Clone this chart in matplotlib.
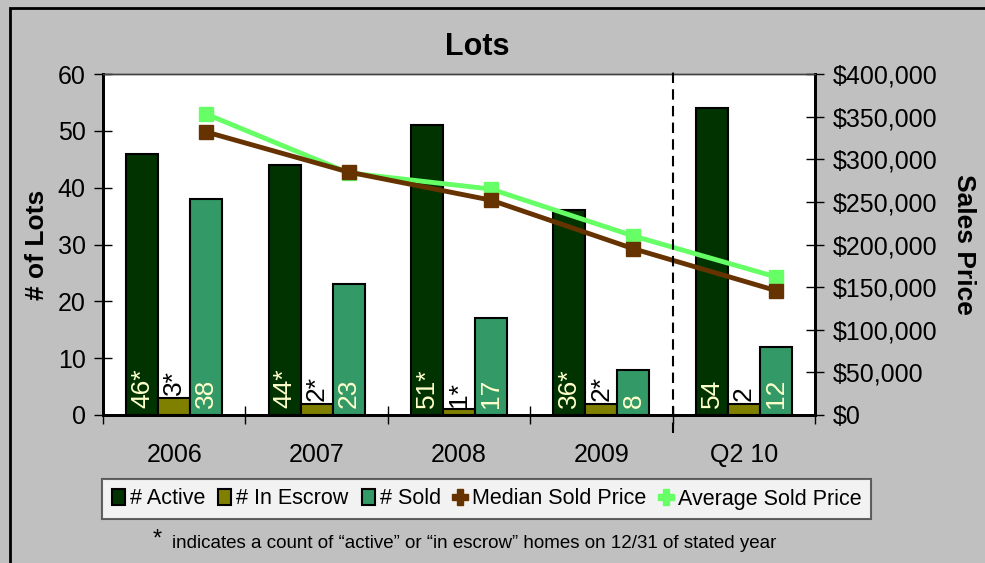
import numpy as np
import matplotlib
matplotlib.use("Agg")
import matplotlib.pyplot as plt
from matplotlib.patches import Patch, Rectangle
from matplotlib.lines import Line2D
from matplotlib.ticker import FuncFormatter, MultipleLocator

plt.rcParams['font.family'] = ['Liberation Sans', 'DejaVu Sans']

categories = ['2006', '2007', '2008', '2009', 'Q2 10']
active = [46, 44, 51, 36, 54]
escrow = [3, 2, 1, 2, 2]
sold = [38, 23, 17, 8, 12]
active_labels = ['46*', '44*', '51*', '36*', '54']
escrow_labels = ['3*', '2*', '1*', '2*', '2']
sold_labels = ['38', '23', '17', '8', '12']
median_price = [332000, 285000, 252000, 195000, 146000]
average_price = [353000, 284000, 265000, 210000, 162000]

c_active = '#003300'
c_escrow = '#808000'
c_sold = '#339966'
c_median = '#663300'
c_avg = '#66ff66'
c_lab = '#ffffcc'
bg = '#c0c0c0'

fig = plt.figure(figsize=(9.85, 5.63), dpi=100, facecolor=bg)
ax = fig.add_axes([103/985, 1-415/563, 712/985, 341/563])
ax2 = ax.twinx()

x = np.arange(len(categories))
w = 0.225

ax.bar(x - w, active, w, color=c_active, edgecolor='black', linewidth=1.5, zorder=2)
ax.bar(x, escrow, w, color=c_escrow, edgecolor='black', linewidth=1.5, zorder=2)
ax.bar(x + w, sold, w, color=c_sold, edgecolor='black', linewidth=1.5, zorder=2)

for i in range(len(categories)):
    ax.annotate(active_labels[i], (x[i] - w, 0), xytext=(0, 5), textcoords='offset points',
                rotation=90, ha='center', va='bottom', color=c_lab, fontsize=19)
    ax.annotate(escrow_labels[i], (x[i], escrow[i]), xytext=(0, 2), textcoords='offset points',
                rotation=90, ha='center', va='bottom', color='black', fontsize=19)
    ax.annotate(sold_labels[i], (x[i] + w, 0), xytext=(0, 5), textcoords='offset points',
                rotation=90, ha='center', va='bottom', color=c_lab, fontsize=19)

ax.set_xlim(-0.5, 4.5)
ax.set_ylim(0, 60)
ax.yaxis.set_major_locator(MultipleLocator(10))
ax.set_facecolor('white')
ax.set_xticks(x)
ax.set_xticklabels(categories)
ax.set_xticks(np.arange(-0.5, 5, 1), minor=True)
ax.tick_params(axis='x', which='major', length=0, pad=20, labelsize=18)
ax.tick_params(axis='x', which='minor', direction='inout', length=13, width=1)
ax.tick_params(axis='y', direction='inout', length=13, width=1, pad=6, labelsize=18)
ax.set_ylabel('# of Lots', fontsize=19, fontweight='bold', labelpad=6)

ax2.plot(x + w, average_price, color=c_avg, lw=3.5, marker='s', markersize=10, zorder=3)
ax2.plot(x + w, median_price, color=c_median, lw=3.5, marker='s', markersize=10, zorder=4)
ax2.set_ylim(0, 400000)
ax2.yaxis.set_major_locator(MultipleLocator(50000))
ax2.yaxis.set_major_formatter(FuncFormatter(lambda v, p: '${:,.0f}'.format(v)))
ax2.tick_params(axis='y', direction='inout', length=13, width=1, pad=6, labelsize=18)
ax2.set_ylabel('Sales Price', fontsize=19, fontweight='bold', rotation=-90, labelpad=28)

for a in (ax, ax2):
    for s in ('left', 'right', 'bottom'):
        a.spines[s].set_linewidth(2)
        a.spines[s].set_color('black')
    a.spines['top'].set_linewidth(1)
    a.spines['top'].set_color('#404040')

ax2.axvline(3.5, ymin=-18/341, ymax=347/341, color='black', lw=1.5,
            linestyle=(0, (5, 3)), clip_on=False, zorder=5)

fig.text(477/985, 1-47/563, 'Lots', ha='center', va='center', fontsize=22, fontweight='bold')

handles = [
    Patch(facecolor=c_active, edgecolor='black', linewidth=1.5, label='# Active'),
    Patch(facecolor=c_escrow, edgecolor='black', linewidth=1.5, label='# In Escrow'),
    Patch(facecolor=c_sold, edgecolor='black', linewidth=1.5, label='# Sold'),
    Line2D([], [], color=c_median, marker='P', markersize=12, lw=0, label='Median Sold Price'),
    Line2D([], [], color=c_avg, marker='P', markersize=12, lw=0, label='Average Sold Price'),
]
leg = fig.legend(handles=handles, loc='center', bbox_to_anchor=(486.5/985, 1-499/563),
                 ncol=5, fontsize=15.5, frameon=True, fancybox=False, edgecolor='#404040',
                 handlelength=0.6, handleheight=0.8, handletextpad=0.25, columnspacing=0.6,
                 borderpad=0.45)
leg.get_frame().set_linewidth(1.5)
leg.get_frame().set_facecolor('white')

fig.text(157/985, 1-540/563, '*', ha='center', va='center', fontsize=17)
fig.text(172/985, 1-543/563, 'indicates a count of \u201cactive\u201d or \u201cin escrow\u201d homes on 12/31 of stated year',
         ha='left', va='center', fontsize=13.5)

fig.patches.append(Rectangle((10/985, -0.1), 1.2, 1.1 - 8/563, transform=fig.transFigure,
                             fill=False, edgecolor='black', linewidth=2))

fig.savefig('out.png', dpi=100, facecolor=bg)
